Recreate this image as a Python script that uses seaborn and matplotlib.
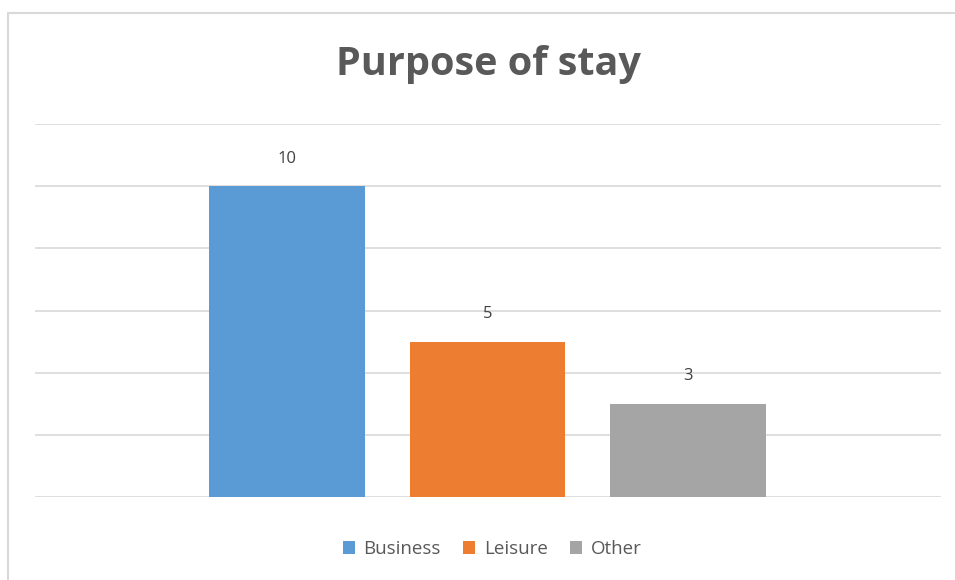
import matplotlib
matplotlib.use("Agg")
import matplotlib.pyplot as plt
import seaborn as sns
import pandas as pd
from matplotlib.patches import Rectangle, Patch

categories = ["Business", "Leisure", "Other"]
values = [10, 5, 3]
colors = ["#5B9BD5", "#ED7D31", "#A5A5A5"]
title = "Purpose of stay"

df = pd.DataFrame({"cat": categories, "val": values})

sns.set_style("white")
plt.rcParams["font.family"] = ["Open Sans", "DejaVu Sans"]

W, H = 955, 580
fig = plt.figure(figsize=(W / 100, H / 100), dpi=100)
ax = fig.add_axes([35 / W, 1 - 497 / H, (941 - 35) / W, (497 - 124) / H])

sns.barplot(data=df, x="cat", y="val", hue="cat", palette=colors,
            dodge=False, width=0.778, ax=ax, legend=False, saturation=1,
            linewidth=0, edgecolor="none")

ax.set_ylim(0, 12)
ax.set_xlim(-1.257, 3.262)
ax.set_yticks(range(0, 13, 2))
ax.yaxis.grid(True, color="#D9D9D9", linewidth=1.2)
ax.set_axisbelow(True)
ax.set_xticks([])
ax.tick_params(left=False, labelleft=False)
ax.set_xlabel("")
ax.set_ylabel("")
for s in ax.spines.values():
    s.set_visible(False)

for cont in ax.containers:
    ax.bar_label(cont, padding=14, fontsize=12, color="#404040")

fig.text(488 / W, 1 - 65 / H, title, ha="center", va="center",
         fontsize=28.5, fontweight="bold", color="#595959")

handles = [Patch(facecolor=c, edgecolor="none") for c in colors]
fig.legend(handles, categories, loc="center", bbox_to_anchor=(492 / W, 1 - 549 / H),
           ncol=3, frameon=False, handlelength=0.65, handleheight=0.65,
           handletextpad=0.45, columnspacing=1.2, fontsize=13.5,
           labelcolor="#595959")

fig.patches.append(Rectangle((8 / W, -0.1), 1.2, 1 - 13 / H + 0.1,
                             transform=fig.transFigure, fill=False,
                             edgecolor="#D9D9D9", linewidth=1.5))

fig.savefig("out.png", dpi=100, facecolor="white")
